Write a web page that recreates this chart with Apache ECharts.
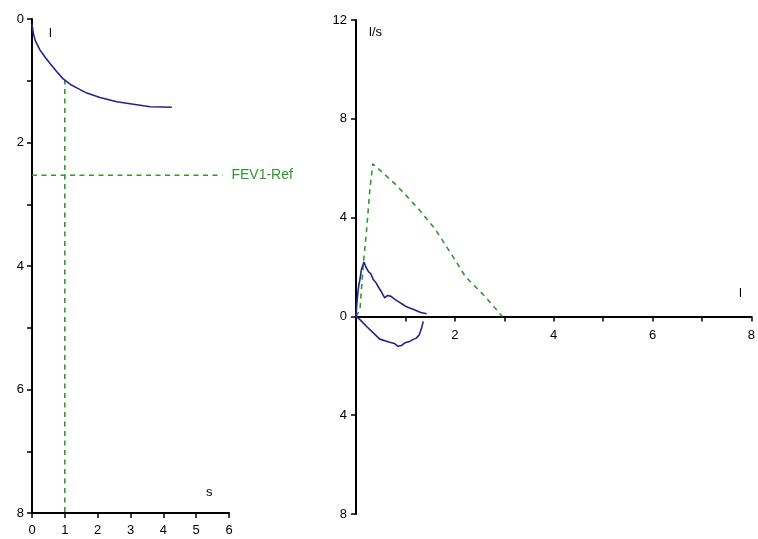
<!DOCTYPE html>
<html>
<head>
<meta charset="utf-8">
<script src="https://cdn.jsdelivr.net/npm/echarts@6/dist/echarts.min.js"></script>
<style>
html,body{margin:0;padding:0;background:#fff;}
#chart{width:758px;height:539px;}
</style>
</head>
<body>
<div id="chart"></div>
<script>
// Volume-time curve (left panel)
var vtTime   = [0, 0.01, 0.04, 0.1, 0.24, 0.4, 0.55, 0.75, 0.95, 1.2, 1.45, 1.67, 2.07, 2.58, 3.09, 3.6, 4.26];
var vtVolume = [0.08, 0.12, 0.23, 0.35, 0.50, 0.62, 0.72, 0.85, 0.97, 1.07, 1.14, 1.2, 1.27, 1.34, 1.38, 1.42, 1.43];
// FEV1 reference
var fev1Ref = 2.53;
var fev1Time = 1;
var fev1LineEnd = 5.8;
var fev1LineTop = 0.98;

// Predicted flow-volume curve (right panel)
var predVol  = [0, 0.08, 0.15, 0.21, 0.28, 0.34, 0.81, 1.28, 1.61, 1.98, 2.21, 2.61, 2.96];
var predFlow = [0, 0.27, 2.16, 3.38, 5.13, 6.18, 5.33, 4.32, 3.51, 2.36, 1.62, 0.81, 0];

// Measured loop: expiratory
var expVol  = [0.0, 0.02, 0.04, 0.06, 0.08, 0.11, 0.16, 0.2, 0.25, 0.3, 0.35, 0.41, 0.45, 0.51, 0.58, 0.64, 0.71, 0.78, 0.85, 1.01, 1.18, 1.31, 1.43];
var expFlow = [0, 0.6, 1.0, 1.3, 1.5, 1.9, 2.2, 2.0, 1.82, 1.72, 1.49, 1.35, 1.2, 1.01, 0.75, 0.85, 0.81, 0.7, 0.61, 0.40, 0.27, 0.16, 0.11];
// Measured loop: inspiratory
var insVol  = [0, 0.08, 0.21, 0.35, 0.48, 0.6, 0.68, 0.78, 0.85, 0.92, 0.98, 1.08, 1.15, 1.22, 1.28, 1.33, 1.36];
var insFlow = [0, -0.13, -0.40, -0.67, -0.92, -1.0, -1.05, -1.1, -1.21, -1.18, -1.08, -1.02, -0.94, -0.88, -0.74, -0.45, -0.2];

var leftXTicks = [0, 6, 1];
var leftYTicks = [0, 8, 1];
var rightXTicks = [0, 8, 1];
var rightYTicks = [-8, 12, 4];

function zip(a, b) { return a.map(function (v, i) { return [v, b[i]]; }); }

var FONT = 'Liberation Sans, Arial, sans-serif';
var BLUE = '#23238f';
var GREEN = '#2e9a2e';
var DASH = [5, 4.5];
var axisCommon = {
  axisLine: { show: true, lineStyle: { color: '#000', width: 2 } },
  axisTick: { show: true, length: 5, lineStyle: { color: '#000', width: 1.5 } },
  splitLine: { show: false },
  axisLabel: { color: '#000', fontFamily: FONT, fontSize: 13, margin: 7 }
};
function ax(extra) { return echarts.util.merge(echarts.util.clone(axisCommon), extra, true); }

var chart = echarts.init(document.getElementById('chart'));
chart.setOption({
  animation: false,
  backgroundColor: '#fff',
  grid: [
    { left: 32, top: 19, width: 197, height: 494 },
    { left: 356, top: 20, width: 400, height: 494 }
  ],
  xAxis: [
    ax({ gridIndex: 0, type: 'value', min: leftXTicks[0], max: leftXTicks[1], interval: leftXTicks[2],
         axisLine: { onZero: false }, axisLabel: { margin: 11 } }),
    ax({ gridIndex: 1, type: 'value', min: rightXTicks[0], max: rightXTicks[1], interval: rightXTicks[2],
         position: 'bottom', offset: -197.6,
         axisLine: { onZero: false },
         axisLabel: { formatter: function (v) { return v % 2 === 0 && v !== 0 ? String(v) : ''; }, margin: 13 } })
  ],
  yAxis: [
    ax({ gridIndex: 0, type: 'value', inverse: true, min: leftYTicks[0], max: leftYTicks[1], interval: leftYTicks[2],
         axisLine: { onZero: false },
         axisLabel: { margin: 8, formatter: function (v) { return v % 2 === 0 ? String(v) : ''; } } }),
    ax({ gridIndex: 1, type: 'value', min: rightYTicks[0], max: rightYTicks[1], interval: rightYTicks[2],
         axisLine: { onZero: false },
         axisLabel: { margin: 9, formatter: function (v) { return String(Math.abs(v)); } } })
  ],
  series: [
    { type: 'line', xAxisIndex: 0, yAxisIndex: 0, data: zip(vtTime, vtVolume), showSymbol: false,
      lineStyle: { color: BLUE, width: 1.6 }, z: 5 },
    { type: 'line', xAxisIndex: 0, yAxisIndex: 0, data: [[0, fev1Ref], [fev1LineEnd, fev1Ref]], showSymbol: false,
      lineStyle: { color: GREEN, width: 1.6, type: DASH },
      endLabel: { show: true, formatter: 'FEV1-Ref', color: GREEN, fontFamily: FONT, fontSize: 14, distance: 9 } },
    { type: 'line', xAxisIndex: 0, yAxisIndex: 0, data: [[fev1Time, fev1LineTop], [fev1Time, 8]], showSymbol: false,
      lineStyle: { color: GREEN, width: 1.6, type: DASH } },
    { type: 'line', xAxisIndex: 1, yAxisIndex: 1, data: zip(predVol, predFlow), showSymbol: false,
      lineStyle: { color: GREEN, width: 1.6, type: DASH } },
    { type: 'line', xAxisIndex: 1, yAxisIndex: 1, data: zip(expVol, expFlow), showSymbol: false,
      lineStyle: { color: BLUE, width: 1.6 }, z: 5 },
    { type: 'line', xAxisIndex: 1, yAxisIndex: 1, data: zip(insVol, insFlow), showSymbol: false,
      lineStyle: { color: BLUE, width: 1.6 }, z: 5 }
  ],
  graphic: [
    { type: 'text', left: 49, top: 27, style: { text: 'l', fill: '#000', font: '13px ' + FONT } },
    { type: 'text', left: 206, top: 486, style: { text: 's', fill: '#000', font: '13px ' + FONT } },
    { type: 'text', left: 369, top: 26, style: { text: 'l/s', fill: '#000', font: '13px ' + FONT } },
    { type: 'text', left: 739, top: 287, style: { text: 'l', fill: '#000', font: '13px ' + FONT } }
  ]
});
</script>
</body>
</html>
